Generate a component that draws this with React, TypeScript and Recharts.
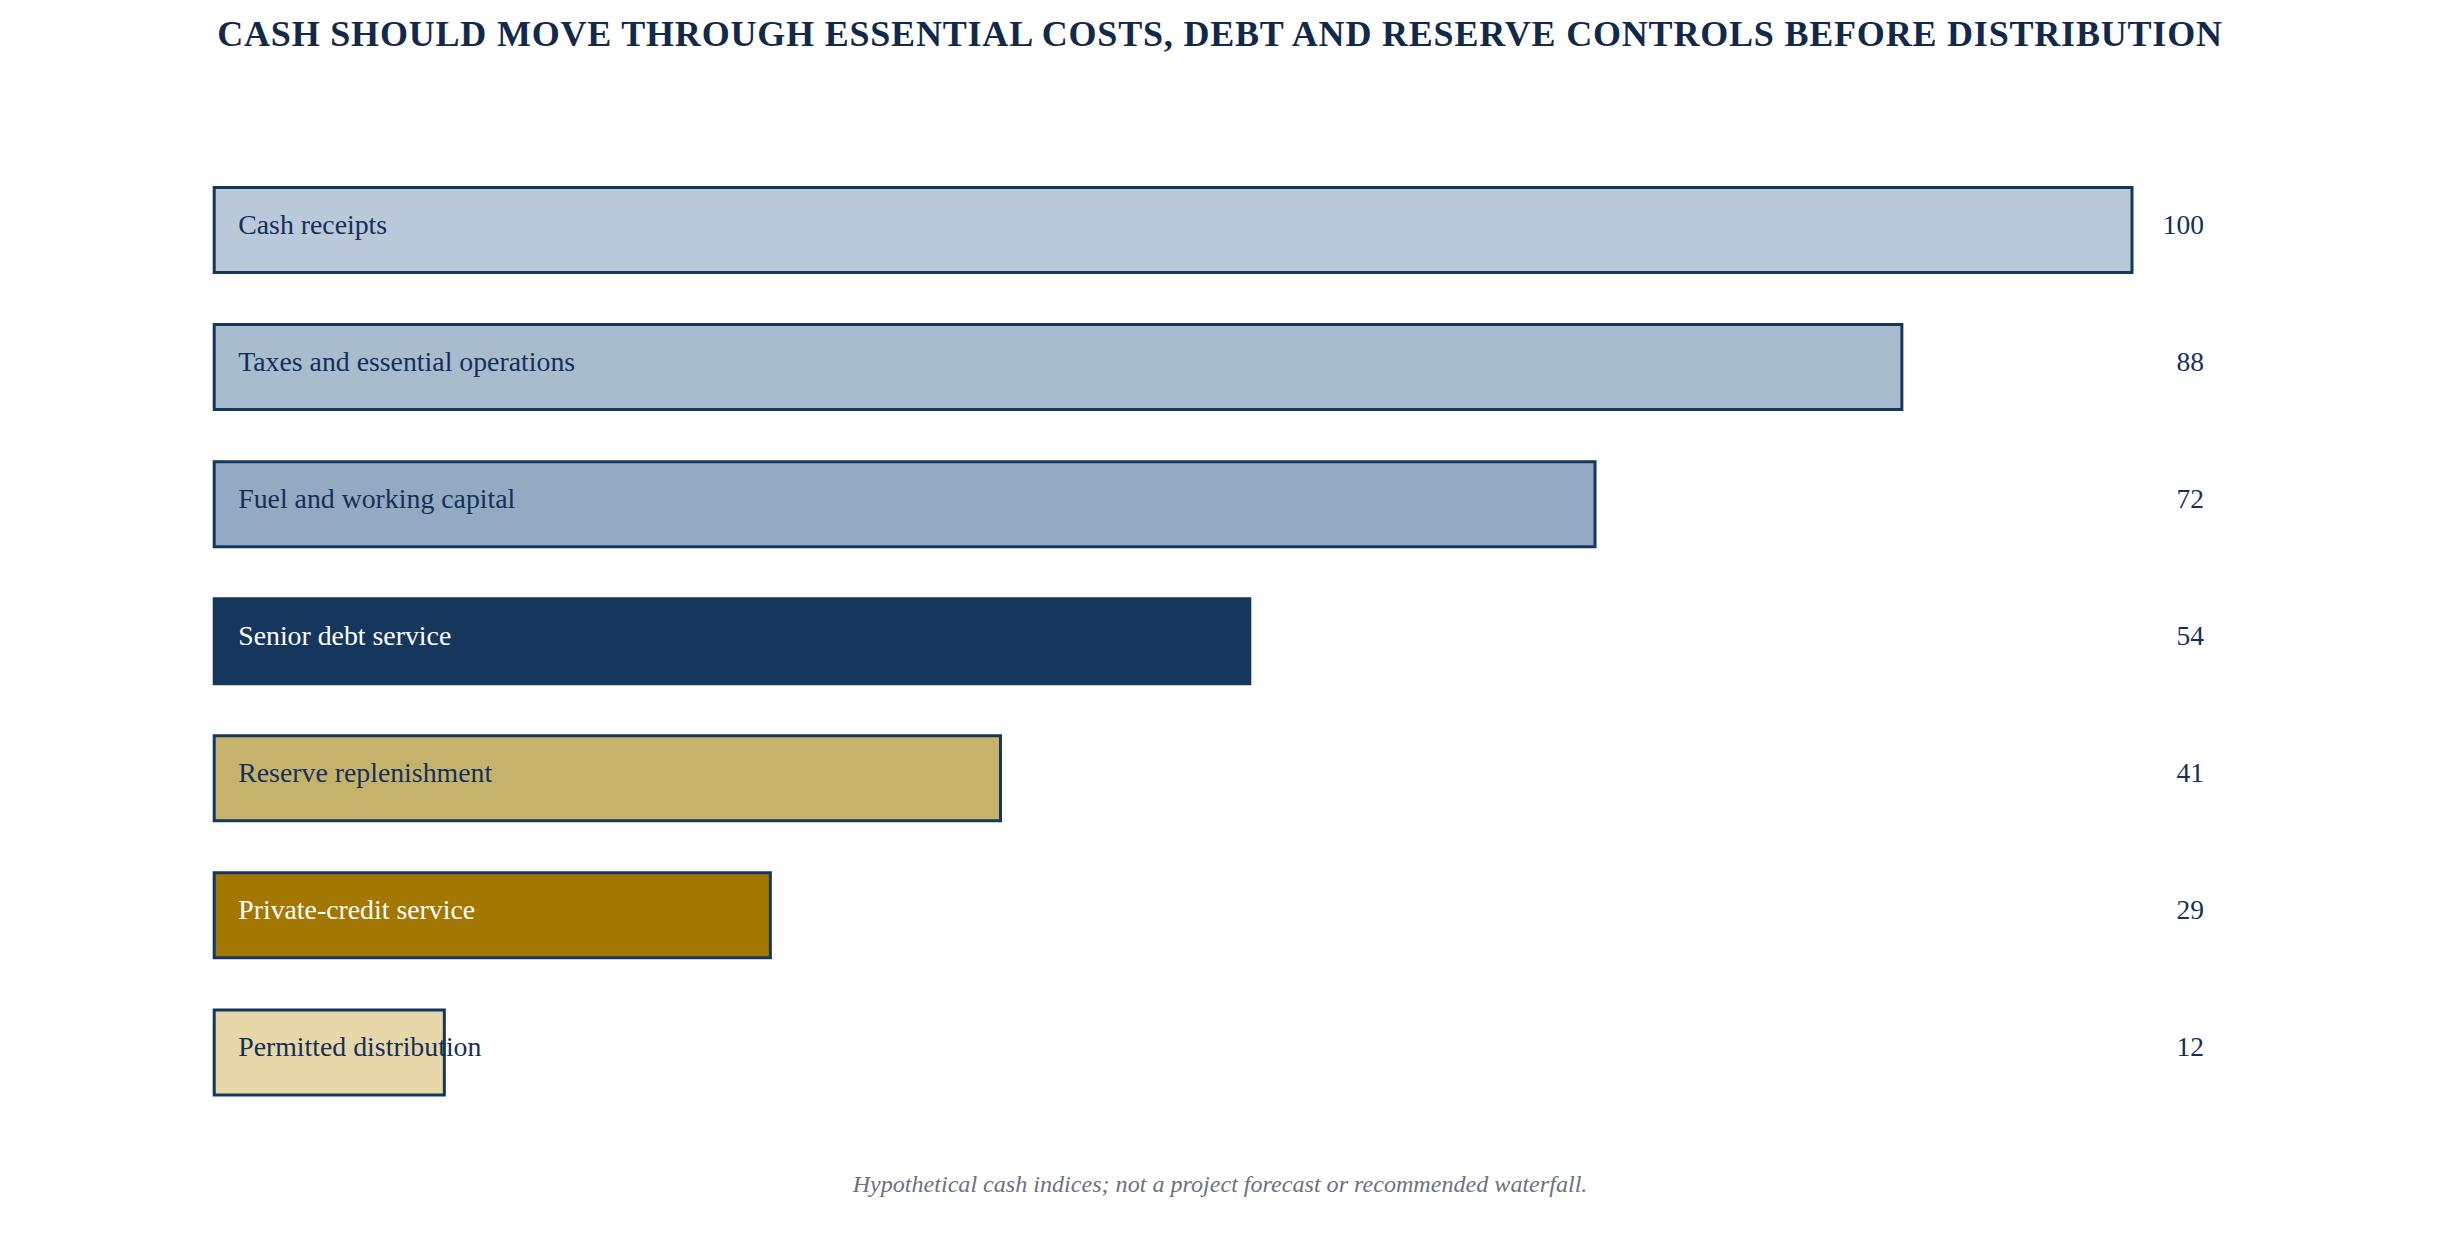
import React from 'react';
import { BarChart, Bar, XAxis, YAxis, Cell, LabelList } from 'recharts';

const categories = [
  'Cash receipts',
  'Taxes and essential operations',
  'Fuel and working capital',
  'Senior debt service',
  'Reserve replenishment',
  'Private-credit service',
  'Permitted distribution',
];
const values = [100, 88, 72, 54, 41, 29, 12];
const fills = ['#b9c9d9', '#a9bccd', '#93abc2', '#16375d', '#c6b36b', '#a37700', '#e8d7a8'];
const labelColors = ['#14305a', '#14305a', '#14305a', '#ffffff', '#14305a', '#ffffff', '#14305a'];
const title = 'CASH SHOULD MOVE THROUGH ESSENTIAL COSTS, DEBT AND RESERVE CONTROLS BEFORE DISTRIBUTION';
const footnote = 'Hypothetical cash indices; not a project forecast or recommended waterfall.';

const data = categories.map((name, i) => ({ name, value: values[i] }));

const W = 2426;
const H = 1238;
const FONT = '"Liberation Serif", "Times New Roman", serif';
const NAVY = '#16375d';
const TEXT = '#14305a';

const InnerLabel = (props: any) => {
  const { x, y, height, index, value } = props;
  return (
    <text
      x={Number(x) + 24}
      y={Number(y) + Number(height) / 2 + 3.5}
      fontFamily={FONT}
      fontSize={27.8}
      fill={labelColors[index]}
      textAnchor="start"
    >
      {value}
    </text>
  );
};

const ValueTick = (props: any) => {
  const { x, y, payload } = props;
  const idx = categories.indexOf(payload.value);
  return (
    <text
      x={Number(x) + 72}
      y={Number(y) + 3.5}
      fontFamily={FONT}
      fontSize={27.5}
      fill={TEXT}
      textAnchor="end"
    >
      {values[idx]}
    </text>
  );
};

export default function App() {
  return (
    <div style={{ position: 'relative', width: W, height: H, background: '#ffffff' }}>
      <BarChart
        width={W}
        height={H}
        data={data}
        layout="vertical"
        margin={{ top: 153.5, right: 202, bottom: 125, left: 206.2 }}
      >
        <XAxis type="number" domain={[0, 100]} hide />
        <YAxis yAxisId="l" type="category" dataKey="name" hide />
        <YAxis
          yAxisId="r"
          orientation="right"
          type="category"
          dataKey="name"
          width={100}
          axisLine={false}
          tickLine={false}
          tickSize={0}
          tickMargin={0}
          tick={<ValueTick />}
          interval={0}
        />
        <Bar
          yAxisId="l"
          dataKey="value"
          barSize={85}
          stroke={NAVY}
          strokeWidth={3}
          isAnimationActive={false}
        >
          {data.map((d, i) => (
            <Cell key={d.name} fill={fills[i]} stroke={NAVY} />
          ))}
          <LabelList dataKey="name" content={<InnerLabel />} />
        </Bar>
      </BarChart>
      <svg
        width={W}
        height={H}
        style={{ position: 'absolute', left: 0, top: 0, pointerEvents: 'none' }}
      >
        <text
          x={1212}
          y={38}
          textAnchor="middle"
          fontFamily={FONT}
          fontWeight="bold"
          fontSize={36}
          letterSpacing={0.8}
          fill="#13294b"
        >
          {title}
        </text>
        <text
          x={1212}
          y={1184}
          textAnchor="middle"
          fontFamily={FONT}
          fontStyle="italic"
          fontSize={24.1}
          fill="#6b7280"
        >
          {footnote}
        </text>
      </svg>
    </div>
  );
}
